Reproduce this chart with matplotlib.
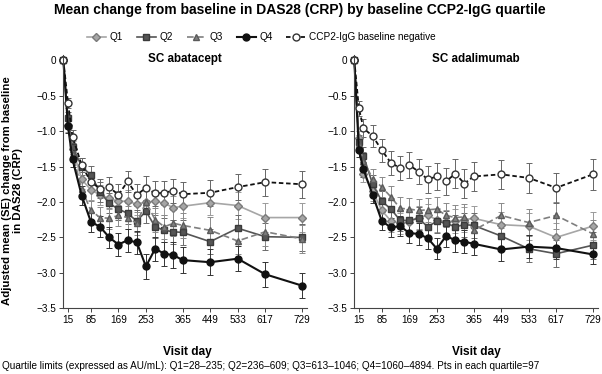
import matplotlib
matplotlib.use('Agg')
from matplotlib import pyplot as plt
from matplotlib.lines import Line2D

plt.rcParams['font.family'] = ['Liberation Sans', 'DejaVu Sans']

# visit days (baseline + post-baseline visits)
days = [1, 15, 29, 57, 85, 113, 141, 169, 197, 225, 253, 281, 309, 337, 365, 449, 533, 617, 729]
xticks = [15, 85, 169, 253, 365, 449, 533, 617, 729]
yticks = [0, -0.5, -1.0, -1.5, -2.0, -2.5, -3.0, -3.5]
ytick_labels = ['0', '\u22120.5', '\u22121.0', '\u22121.5', '\u22122.0', '\u22122.5', '\u22123.0', '\u22123.5']

series_names = ['Q1', 'Q2', 'Q3', 'Q4', 'CCP2-IgG baseline negative']

# SC abatacept
aba_q1  = [0, -0.92, -1.25, -1.68, -1.83, -1.90, -1.95, -1.99, -1.99, -2.03, -2.00, -1.99, -2.02, -2.08, -2.06, -2.01, -2.05, -2.22, -2.22]
aba_q2  = [0, -0.82, -1.22, -1.50, -1.62, -1.86, -2.02, -2.10, -2.16, -2.27, -2.13, -2.35, -2.40, -2.42, -2.43, -2.56, -2.37, -2.49, -2.50]
aba_q3  = [0, -0.88, -1.32, -1.82, -2.12, -2.22, -2.23, -2.19, -2.22, -2.30, -2.00, -2.25, -2.35, -2.30, -2.33, -2.40, -2.55, -2.42, -2.52]
aba_q4  = [0, -0.93, -1.40, -1.91, -2.28, -2.35, -2.50, -2.60, -2.54, -2.57, -2.91, -2.66, -2.73, -2.75, -2.82, -2.85, -2.80, -3.02, -3.18]
aba_neg = [0, -0.60, -1.08, -1.48, -1.72, -1.81, -1.79, -1.90, -1.71, -1.90, -1.80, -1.88, -1.87, -1.84, -1.89, -1.87, -1.79, -1.72, -1.75]

aba_q1_se  = [0, 0.09, 0.11, 0.13, 0.14, 0.14, 0.15, 0.15, 0.16, 0.16, 0.16, 0.16, 0.17, 0.17, 0.17, 0.18, 0.19, 0.20, 0.20]
aba_q2_se  = [0, 0.09, 0.11, 0.12, 0.13, 0.14, 0.14, 0.15, 0.15, 0.16, 0.16, 0.16, 0.17, 0.17, 0.17, 0.18, 0.18, 0.19, 0.19]
aba_q3_se  = [0, 0.09, 0.11, 0.13, 0.14, 0.15, 0.15, 0.15, 0.16, 0.16, 0.17, 0.17, 0.17, 0.18, 0.18, 0.19, 0.19, 0.20, 0.20]
aba_q4_se  = [0, 0.09, 0.11, 0.13, 0.14, 0.15, 0.15, 0.16, 0.16, 0.16, 0.17, 0.17, 0.17, 0.18, 0.18, 0.18, 0.18, 0.18, 0.18]
aba_neg_se = [0, 0.07, 0.09, 0.10, 0.12, 0.13, 0.14, 0.15, 0.15, 0.16, 0.17, 0.17, 0.17, 0.17, 0.17, 0.18, 0.18, 0.19, 0.19]

# SC adalimumab
ada_q1  = [0, -1.10, -1.60, -1.85, -2.12, -2.27, -2.30, -2.28, -2.22, -2.19, -2.25, -2.28, -2.27, -2.25, -2.23, -2.32, -2.34, -2.50, -2.34]
ada_q2  = [0, -1.15, -1.35, -1.75, -1.99, -2.10, -2.26, -2.26, -2.23, -2.35, -2.27, -2.30, -2.35, -2.32, -2.33, -2.48, -2.66, -2.73, -2.61]
ada_q3  = [0, -1.18, -1.42, -1.67, -1.79, -1.93, -2.09, -2.10, -2.12, -2.11, -2.10, -2.19, -2.22, -2.21, -2.40, -2.19, -2.29, -2.19, -2.45]
ada_q4  = [0, -1.27, -1.54, -1.90, -2.27, -2.36, -2.34, -2.44, -2.45, -2.51, -2.66, -2.48, -2.54, -2.56, -2.59, -2.67, -2.63, -2.65, -2.74]
ada_neg = [0, -0.68, -0.96, -1.07, -1.27, -1.45, -1.52, -1.48, -1.57, -1.68, -1.64, -1.71, -1.60, -1.74, -1.64, -1.61, -1.66, -1.80, -1.61]

ada_q1_se  = [0, 0.10, 0.12, 0.13, 0.14, 0.15, 0.15, 0.16, 0.16, 0.16, 0.17, 0.17, 0.17, 0.18, 0.18, 0.18, 0.19, 0.20, 0.20]
ada_q2_se  = [0, 0.10, 0.12, 0.13, 0.14, 0.15, 0.15, 0.16, 0.16, 0.16, 0.17, 0.17, 0.17, 0.17, 0.18, 0.18, 0.19, 0.19, 0.19]
ada_q3_se  = [0, 0.10, 0.12, 0.13, 0.14, 0.15, 0.16, 0.16, 0.16, 0.17, 0.17, 0.17, 0.18, 0.18, 0.18, 0.18, 0.19, 0.19, 0.20]
ada_q4_se  = [0, 0.09, 0.11, 0.12, 0.13, 0.14, 0.14, 0.14, 0.15, 0.15, 0.15, 0.15, 0.16, 0.16, 0.16, 0.16, 0.16, 0.16, 0.14]
ada_neg_se = [0, 0.10, 0.13, 0.15, 0.16, 0.17, 0.17, 0.18, 0.18, 0.19, 0.19, 0.19, 0.20, 0.20, 0.20, 0.20, 0.21, 0.21, 0.22]

styles = [
    dict(color='#a6a6a6', ls='-',  lw=1.2, marker='D', ms=4.2, mfc='#a6a6a6', mec='#7a7a7a'),
    dict(color='#555555', ls='-',  lw=1.2, marker='s', ms=4.2, mfc='#555555', mec='#3a3a3a'),
    dict(color='#7f7f7f', ls=(0, (4, 2)), lw=1.2, marker='^', ms=4.6, mfc='#7f7f7f', mec='#5a5a5a'),
    dict(color='#111111', ls='-',  lw=1.5, marker='o', ms=5.0, mfc='#111111', mec='#111111'),
    dict(color='#111111', ls=(0, (2.5, 1.5)), lw=1.3, marker='o', ms=5.0, mfc='white', mec='#333333'),
]
ecolors = ['#9a9a9a', '#6a6a6a', '#8a8a8a', '#333333', '#666666']

panels = [
    ('SC abatacept', [aba_q1, aba_q2, aba_q3, aba_q4, aba_neg],
     [aba_q1_se, aba_q2_se, aba_q3_se, aba_q4_se, aba_neg_se]),
    ('SC adalimumab', [ada_q1, ada_q2, ada_q3, ada_q4, ada_neg],
     [ada_q1_se, ada_q2_se, ada_q3_se, ada_q4_se, ada_neg_se]),
]

fig = plt.figure(figsize=(6.02, 3.74), dpi=100)
ax_l = fig.add_axes([0.1047, 0.1757, 0.405, 0.6765])
ax_r = fig.add_axes([0.588, 0.1757, 0.405, 0.6765])

for ax, (ptitle, vals, ses) in zip([ax_l, ax_r], panels):
    for v, s, st, ec in zip(vals, ses, styles, ecolors):
        ax.errorbar(days, v, yerr=s, ecolor=ec, elinewidth=0.7, capsize=2.0,
                    capthick=0.7, clip_on=False, **st)
    ax.set_xlim(0, 744)
    ax.set_ylim(-3.5, 0.07)
    ax.set_xticks(xticks)
    ax.set_yticks(yticks)
    ax.set_yticklabels(ytick_labels)
    ax.tick_params(labelsize=7.2, length=3, width=0.7, color='#444444', pad=2)
    for side in ['top', 'right']:
        ax.spines[side].set_visible(False)
    for side in ['left', 'bottom']:
        ax.spines[side].set_color('#444444')
        ax.spines[side].set_linewidth(0.8)
    ax.text(0.5, 0.985, ptitle, transform=ax.transAxes, ha='center', va='center',
            fontsize=8.4, fontweight='bold')

fig.text(0.311, 0.059, 'Visit day', ha='center', va='center', fontsize=8.6, fontweight='bold')
fig.text(0.792, 0.059, 'Visit day', ha='center', va='center', fontsize=8.6, fontweight='bold')
fig.text(0.021, 0.49, 'Adjusted mean (SE) change from baseline\nin DAS28 (CRP)', rotation=90,
         ha='center', va='center', fontsize=8.2, fontweight='bold', linespacing=1.1)

fig.text(0.4975, 0.973, 'Mean change from baseline in DAS28 (CRP) by baseline CCP2-IgG quartile',
         ha='center', va='center', fontsize=10, fontweight='bold')

handles = [Line2D([], [], **st) for st in styles]
fig.legend(handles, series_names, loc='center', bbox_to_anchor=(0.434, 0.9), ncol=5,
           frameon=False, fontsize=7.2, handlelength=1.9, handletextpad=0.35,
           columnspacing=1.4, borderaxespad=0)

fig.text(0.004, 0.021, 'Quartile limits (expressed as AU/mL): Q1=28\u2013235; Q2=236\u2013609; '
         'Q3=613\u20131046; Q4=1060\u20134894. Pts in each quartile=97',
         ha='left', va='center', fontsize=7.2)

fig.savefig('out.png', dpi=100)
